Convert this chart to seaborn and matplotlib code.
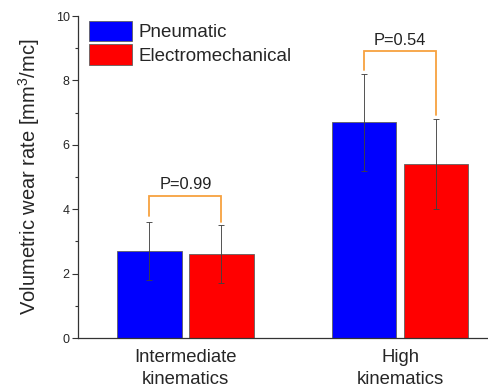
import pandas as pd
import matplotlib
matplotlib.use("Agg")
import matplotlib.pyplot as plt
import seaborn as sns
from matplotlib.ticker import MultipleLocator

categories = ["Intermediate\nkinematics", "High\nkinematics"]
groups = ["Pneumatic", "Electromechanical"]
pneumatic = [2.7, 6.7]
pneumatic_err = [0.9, 1.5]
electro = [2.6, 5.4]
electro_err = [0.9, 1.4]
p_labels = ["P=0.99", "P=0.54"]
bracket_top = [4.4, 8.9]
bracket_ends = [[3.78, 3.6], [8.32, 6.93]]

sns.set_style("white")
plt.rcParams["font.family"] = ["Liberation Sans", "DejaVu Sans"]
plt.rcParams["mathtext.fontset"] = "custom"
plt.rcParams["mathtext.rm"] = "Liberation Sans"
plt.rcParams["mathtext.it"] = "Liberation Sans"

df = pd.DataFrame({
    "cat": categories * 2,
    "group": [groups[0]] * 2 + [groups[1]] * 2,
    "value": pneumatic + electro,
})

fig = plt.figure(figsize=(4.88, 3.91), dpi=100)
ax = fig.add_axes([0.16, 0.1355, 0.84, 0.8235])

sns.barplot(data=df, x="cat", y="value", hue="group", order=categories,
            hue_order=groups, palette=["#0000ff", "#ff0000"], saturation=1,
            width=0.67, gap=0.1, edgecolor="#606060", linewidth=0.6,
            errorbar=None, ax=ax)

# error bars at the bar centres seaborn placed
errs = [pneumatic_err, electro_err]
centers = []
for cont, err in zip(ax.containers, errs):
    xs = [b.get_x() + b.get_width() / 2 for b in cont]
    ys = [b.get_height() for b in cont]
    centers.append(xs)
    ax.errorbar(xs, ys, yerr=err, fmt="none", ecolor="#404040",
                elinewidth=0.7, capsize=2, capthick=0.7, alpha=0.9)

# significance brackets
for i in range(len(categories)):
    x1, x2 = centers[0][i], centers[1][i]
    y1, y2 = bracket_ends[i]
    top = bracket_top[i]
    ax.plot([x1, x1, x2, x2], [y1, top, top, y2], color="#f7a13f", lw=1.3,
            solid_joinstyle="miter")
    ax.text((x1 + x2) / 2, top + 0.12, p_labels[i], ha="center", va="bottom",
            fontsize=11.8, color="#222222")

ax.set_ylim(0, 10)
ax.set_xlim(-0.5, 1.41)
ax.yaxis.set_major_locator(MultipleLocator(2))
ax.yaxis.set_minor_locator(MultipleLocator(1))
ax.tick_params(axis="y", which="major", direction="out", length=4, width=0.8,
               labelsize=9, left=True, color="#333333", pad=2)
ax.tick_params(axis="y", which="minor", direction="out", length=2.5, width=0.8,
               left=True, color="#333333")
ax.tick_params(axis="x", length=0, labelsize=13.3, pad=8)
for lab in ax.get_xticklabels():
    lab.set_linespacing(1.35)
for s in ["top", "right"]:
    ax.spines[s].set_visible(False)
for s in ["left", "bottom"]:
    ax.spines[s].set_color("#333333")
    ax.spines[s].set_linewidth(0.9)

ax.set_xlabel("")
ax.set_ylabel("Volumetric wear rate [mm$^3$/mc]", fontsize=14.5, labelpad=10)

leg = ax.legend(loc="upper left", bbox_to_anchor=(0.0, 1.02), frameon=False,
                fontsize=13.5, handlelength=2.3, handleheight=1.3,
                handletextpad=0.3, labelspacing=0.15, borderaxespad=0.2)

fig.savefig("out.png", dpi=100)
